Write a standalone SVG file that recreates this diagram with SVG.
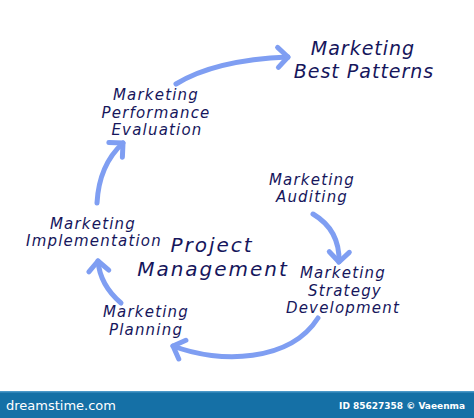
<svg xmlns="http://www.w3.org/2000/svg" width="474" height="418" viewBox="0 0 474 418">
<style>
.lbl{font-family:"DejaVu Sans","Liberation Sans",sans-serif;font-style:italic;fill:#16165c;text-anchor:middle;font-size:15px;letter-spacing:1.2px}
.big{font-size:19px;letter-spacing:1px}
.pm{font-size:20px;letter-spacing:2px}
.arr{fill:none;stroke:#7f9ef2;stroke-width:5;stroke-linecap:round}
.ban{font-family:"DejaVu Sans","Liberation Sans",sans-serif;fill:#ffffff}
</style>
<defs>
<marker id="head" markerUnits="userSpaceOnUse" viewBox="0 0 16 26" refX="13" refY="13" markerWidth="16" markerHeight="26" orient="auto" overflow="visible">
<path d="M3,3 L13,13 L3,23" fill="none" stroke="#7f9ef2" stroke-width="5" stroke-linecap="round" stroke-linejoin="round"/>
</marker>
</defs>
<rect width="474" height="418" fill="#ffffff"/>
<g id="connectors">
<path class="arr" d="M176,84 Q215,60 288,57" marker-end="url(#head)"/>
<path class="arr" d="M97,203 Q99,165 123,143" marker-end="url(#head)"/>
<path class="arr" d="M313,214 Q340,230 339,262" marker-end="url(#head)"/>
<path class="arr" d="M121,303 Q100,285 98,261" marker-end="url(#head)"/>
<path class="arr" d="M318,318 C290,362 220,364 173,346" marker-end="url(#head)"/>
</g>
<g id="best-patterns">
<text class="lbl big" x="363" y="55">Marketing</text>
<text class="lbl big" x="364" y="78">Best Patterns</text>
</g>
<g id="performance-evaluation">
<text class="lbl" x="156" y="100">Marketing</text>
<text class="lbl" x="156" y="117.5">Performance</text>
<text class="lbl" x="157" y="135">Evaluation</text>
</g>
<g id="auditing">
<text class="lbl" x="312" y="184.5">Marketing</text>
<text class="lbl" x="312" y="202">Auditing</text>
</g>
<g id="implementation">
<text class="lbl" x="93" y="228.5">Marketing</text>
<text class="lbl" x="94" y="246">Implementation</text>
</g>
<g id="project-management">
<text class="lbl pm" x="212" y="252">Project</text>
<text class="lbl pm" x="213" y="276">Management</text>
</g>
<g id="strategy-development">
<text class="lbl" x="343" y="278">Marketing</text>
<text class="lbl" x="345" y="295.5">Strategy</text>
<text class="lbl" x="343" y="313">Development</text>
</g>
<g id="planning">
<text class="lbl" x="146" y="317">Marketing</text>
<text class="lbl" x="146" y="334.5">Planning</text>
</g>
<g id="banner">
<rect x="0" y="391" width="474" height="27" fill="#1570a6"/>
<rect x="0" y="391" width="474" height="1.5" fill="#4b98c8"/>
<text class="ban" x="6" y="410" font-size="13">dreamstime.com</text>
<text class="ban" x="465" y="409" font-size="9" font-weight="bold" text-anchor="end">ID 85627358 © Vaeenma</text>
</g>
</svg>
